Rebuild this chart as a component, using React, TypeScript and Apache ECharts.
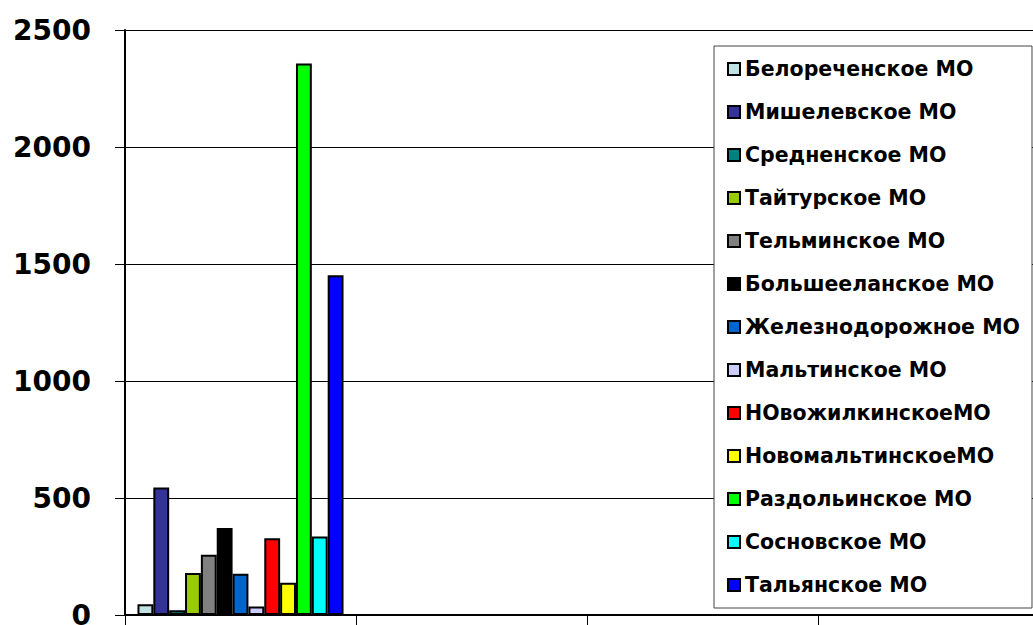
import React, { useEffect, useRef } from "react";
import * as echarts from "echarts";

const categories = ["", "", "", ""];
const seriesNames = [
  "Белореченское МО",
  "Мишелевское МО",
  "Средненское МО",
  "Тайтурское МО",
  "Тельминское МО",
  "Большееланское МО",
  "Железнодорожное МО",
  "Мальтинское МО",
  "НОвожилкинскоеМО",
  "НовомальтинскоеМО",
  "Раздольинское МО",
  "Сосновское МО",
  "Тальянское МО",
];
const seriesValues = [46, 545, 20, 180, 257, 372, 176, 36, 328, 138, 2357, 335, 1452];
const seriesColors = [
  "#BFE3E3",
  "#333399",
  "#008080",
  "#99CC00",
  "#808080",
  "#000000",
  "#0066CC",
  "#CCCCFF",
  "#FF0000",
  "#FFFF00",
  "#00FF00",
  "#00FFFF",
  "#0000FF",
];
const yTicks = { min: 0, max: 2500, interval: 500 };

export default function App() {
  const ref = useRef<HTMLDivElement>(null);
  useEffect(() => {
    if (!ref.current) return;
    const chart = echarts.init(ref.current, undefined, { renderer: "svg" });
    const font = "'DejaVu Sans', Arial, sans-serif";
    chart.setOption({
      animation: false,
      backgroundColor: "#ffffff",
      textStyle: { fontFamily: font },
      grid: {
        left: 125,
        top: 30,
        height: 585,
        width: 924,
        containLabel: false,
        outerBoundsMode: "none",
      },
      legend: {
        orient: "vertical",
        left: 714,
        top: 46,
        padding: [12, 12, 12, 13],
        itemGap: 21,
        itemWidth: 12,
        itemHeight: 12,
        backgroundColor: "#ffffff",
        borderColor: "#444444",
        borderWidth: 1,
        borderRadius: 0,
        icon: "rect",
        itemStyle: { borderColor: "#000", borderWidth: 2 },
        textStyle: {
          fontFamily: font,
          fontWeight: "bold",
          fontSize: 20.5,
          lineHeight: 22,
          color: "#000",
        },
        data: seriesNames,
      },
      xAxis: {
        type: "category",
        data: categories,
        axisLine: { lineStyle: { color: "#000", width: 2 } },
        axisTick: { show: true, length: 10, inside: false, lineStyle: { color: "#000", width: 1 } },
        axisLabel: { show: false },
        splitLine: { show: false },
      },
      yAxis: {
        type: "value",
        min: yTicks.min,
        max: yTicks.max,
        interval: yTicks.interval,
        axisLine: { show: true, lineStyle: { color: "#000", width: 2 } },
        axisTick: { show: true, length: 10, lineStyle: { color: "#000", width: 1 } },
        axisLabel: {
          margin: 34,
          fontFamily: font,
          fontWeight: "bold",
          fontSize: 28,
          color: "#000",
          formatter: (v: number) => String(v),
        },
        splitLine: { show: true, lineStyle: { color: "#000", width: 1 } },
      },
      series: seriesNames.map((name, i) => ({
        name,
        type: "bar",
        barGap: "0%",
        barCategoryGap: "10.8%",
        data: categories.map((_, j) => (j === 0 ? seriesValues[i] : null)),
        itemStyle: { color: seriesColors[i], borderColor: "#000", borderWidth: 2 },
      })),
    });
    return () => chart.dispose();
  }, []);
  return (
    <div
      ref={ref}
      style={{ position: "fixed", left: 0, top: 0, width: 1033, height: 625, background: "#fff" }}
    />
  );
}
